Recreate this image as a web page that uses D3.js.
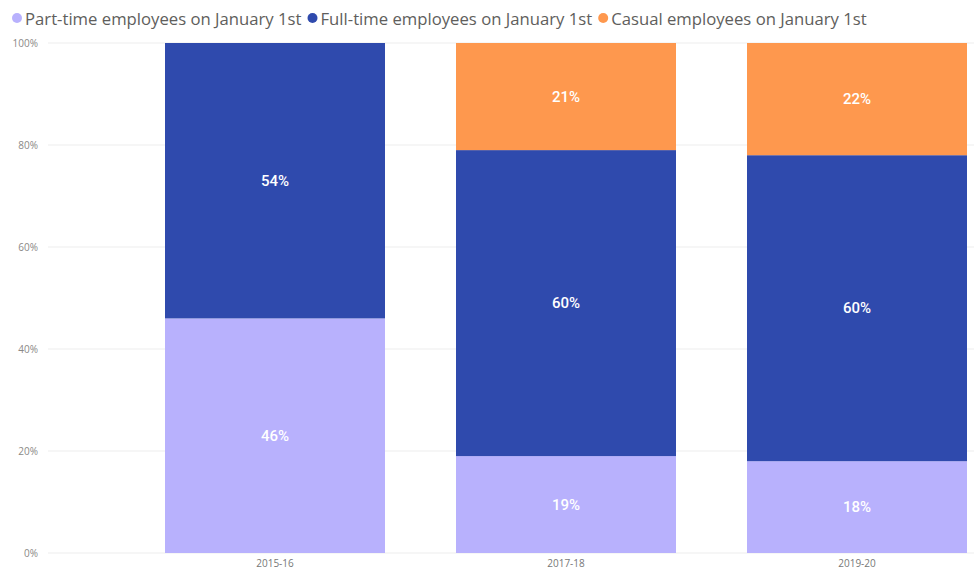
<!DOCTYPE html>
<html>
<head>
<meta charset="utf-8">
<script src="https://cdn.jsdelivr.net/npm/d3@7"></script>
<style>
  body { margin: 0; background: #fff; }
  svg { display: block; }
</style>
</head>
<body>
<svg id="chart" width="974" height="575"></svg>
<script>
// Employment mix by year, percent of staff on January 1st
const years = ["2015-16", "2017-18", "2019-20"];
const seriesNames = [
  "Part-time employees on January 1st",
  "Full-time employees on January 1st",
  "Casual employees on January 1st"
];
const partTime = [46, 19, 18];
const fullTime = [54, 60, 60];
const casual = [0, 21, 22];
const yTicks = [0, 20, 40, 60, 80, 100];
const colors = ["#B8B1FD", "#2F4AAD", "#FE984E"];

const svg = d3.select("#chart");
const plotTop = 43, plotBottom = 553, plotLeft = 48, plotRight = 974;

const rows = years.map((yr, i) => ({ year: yr, p: partTime[i], f: fullTime[i], c: casual[i] }));
const layers = d3.stack().keys(["p", "f", "c"])(rows);

const x = d3.scaleBand().domain(years).range([129.5, 1002.5])
  .paddingInner(0.244).paddingOuter(0.122);
const y = d3.scaleLinear().domain([0, 100]).range([plotBottom, plotTop]);

// gridlines
svg.append("g").selectAll("line").data(yTicks).join("line")
  .attr("x1", plotLeft).attr("x2", plotRight)
  .attr("y1", d => y(d)).attr("y2", d => y(d))
  .attr("stroke", "#EDEDED").attr("stroke-width", 1);

// y axis labels
const yAxis = d3.axisLeft(y).tickValues(yTicks).tickFormat(d => d + "%").tickSize(0).tickPadding(0);
const yg = svg.append("g").attr("transform", "translate(38,0)").call(yAxis);
yg.select(".domain").remove();
yg.selectAll("text").attr("fill", "#8A8886").style("font-family", "'Open Sans', sans-serif").style("font-size", "10px");

// x axis labels
const xAxis = d3.axisBottom(x).tickSize(0).tickPadding(0);
const xg = svg.append("g").attr("transform", `translate(0,${plotBottom + 7})`).call(xAxis);
xg.select(".domain").remove();
xg.selectAll("text").attr("fill", "#777").style("font-family", "'Open Sans', sans-serif").style("font-size", "10px");

// stacked bars with centred value labels
const g = svg.append("g");
layers.forEach((layer, k) => {
  const segs = layer.filter(d => d[1] - d[0] > 0);
  const lg = g.append("g");
  lg.selectAll("rect").data(segs).join("rect")
    .attr("x", d => x(d.data.year))
    .attr("width", x.bandwidth())
    .attr("y", d => y(d[1]))
    .attr("height", d => y(d[0]) - y(d[1]))
    .attr("fill", colors[k]);
  lg.selectAll("text").data(segs).join("text")
    .attr("x", d => x(d.data.year) + x.bandwidth() / 2)
    .attr("y", d => (y(d[0]) + y(d[1])) / 2)
    .attr("text-anchor", "middle")
    .attr("dominant-baseline", "central")
    .attr("fill", "#fff")
    .style("font-family", "Roboto, sans-serif")
    .style("font-weight", "500")
    .style("font-size", "15px")
    .text(d => Math.round(d[1] - d[0]) + "%");
});

// legend
const legend = svg.append("g").attr("transform", "translate(0,18)");
let lx = 12;
seriesNames.forEach((name, i) => {
  legend.append("circle").attr("cx", lx + 5).attr("cy", 0).attr("r", 5).attr("fill", colors[i]);
  const t = legend.append("text").attr("x", lx + 13).attr("y", 0)
    .attr("dominant-baseline", "central")
    .attr("fill", "#605E5C")
    .style("font-family", "'Open Sans', sans-serif")
    .style("font-size", "16.7px")
    .text(name);
  lx += 13 + t.node().getComputedTextLength() + 6;
});
</script>
</body>
</html>
